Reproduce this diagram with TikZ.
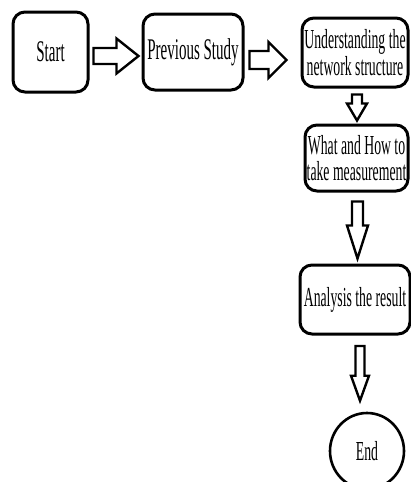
\documentclass[tikz,border=0pt]{standalone}
\usepackage{fontspec}
\setmainfont{Liberation Serif}[FakeStretch=0.5]
\usetikzlibrary{calc,shapes.geometric}

\tikzset{
  stepbox/.style={draw, rounded corners=12pt, line width=3pt, align=center, inner sep=0pt},
  endoval/.style={draw, ellipse, line width=2.6pt, inner sep=0pt},
  bigtext/.style={font=\fontsize{30}{26}\selectfont},
  % hollow block arrow between two points: shaft half width, head half width, head length
  fatarrow/.style n args={3}{draw, fill=white, line width=2.4pt, line join=miter,
    to path={let \p1=(\tikztostart), \p2=(\tikztotarget), \p3=($(\p2)!#3!(\p1)$) in
      ($(\p1)!#1!90:(\p2)$) -- ($(\p3)!#1!90:(\p2)$) -- ($(\p3)!#2!90:(\p2)$) -- (\p2)
      -- ($(\p3)!#2!-90:(\p2)$) -- ($(\p3)!#1!-90:(\p2)$) -- ($(\p1)!#1!-90:(\p2)$) -- cycle}}
}

\begin{document}
\begin{tikzpicture}[x=1pt, y=-1pt, font=\fontsize{27.5}{26.5}\selectfont]
        \useasboundingbox (0,0) rectangle (411,482);
        % Steps
        \node[stepbox, bigtext, minimum width=75pt, minimum height=80pt] (start) at (50.5,52) {Start};
        \node[stepbox, bigtext, minimum width=100pt, minimum height=76pt] (prev) at (193,52) {Previous Study};
        \node[stepbox, minimum width=106pt, minimum height=69pt] (under) at (355,52.5) {Understanding the\\network structure};
        \node[stepbox, minimum width=103pt, minimum height=66pt] (what) at (356.5,158) {What and How to\\take measurement};
        \node[stepbox, minimum width=110pt, minimum height=69pt] (analysis) at (355,299.5) {Analysis the result};
        \node[endoval, minimum width=74pt, minimum height=76pt] (stop) at (367,451) {End};
        % Block arrows
        \draw[fatarrow={8pt}{17.5pt}{22pt}] ([shift={(4,4)}]start.east) to ([shift={(-3,4)}]prev.west);
        \draw[fatarrow={9pt}{18pt}{18pt}] ([shift={(5,8)}]prev.east) to ([shift={(-14,7.5)}]under.west);
        \draw[fatarrow={5pt}{10pt}{17pt}] ([shift={(2,6)}]under.south) to ([shift={(0.5,-3)}]what.north);
        \draw[fatarrow={5.5pt}{10.5pt}{33pt}] ([shift={(1,9)}]what.south) to ([shift={(2.5,-5)}]analysis.north);
        \draw[fatarrow={4.5pt}{9pt}{25pt}] ([shift={(5,10.5)}]analysis.south) to ([shift={(-7,-11)}]stop.north);
\end{tikzpicture}
\end{document}
